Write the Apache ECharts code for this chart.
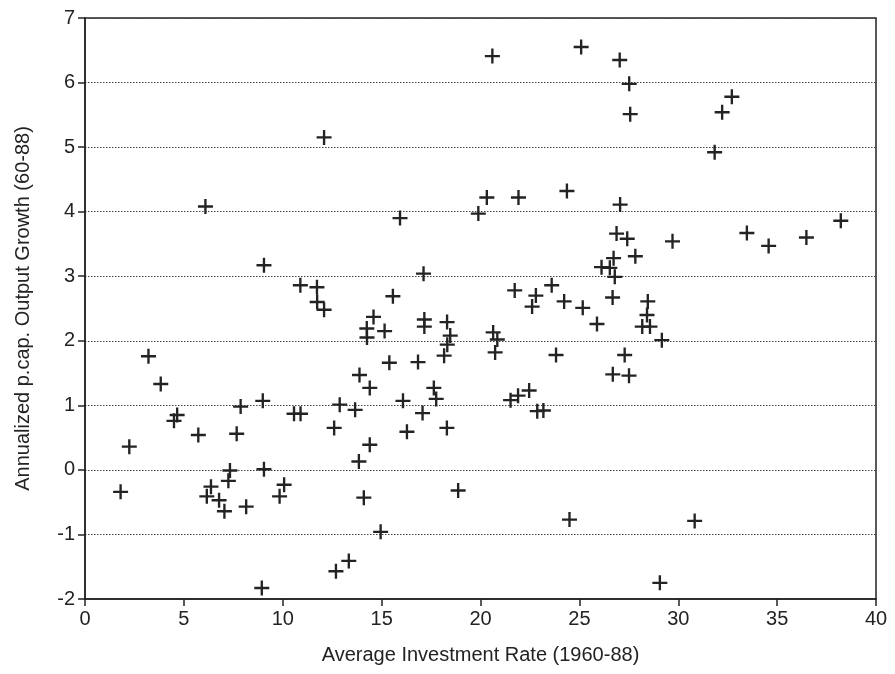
<!DOCTYPE html>
<html>
<head>
<meta charset="utf-8">
<script src="https://cdn.jsdelivr.net/npm/echarts@6/dist/echarts.min.js"></script>
<style>
html,body{margin:0;padding:0;background:#fff;}
#chart{width:895px;height:674px;}
</style>
</head>
<body>
<div id="chart"></div>
<script>
// Average investment rate 1960-88 (x) and annualized per-capita output growth 60-88 (y)
const investmentRate = [
  1.80, 2.24, 3.21, 3.83, 4.50, 4.66, 5.73, 6.09, 6.16, 6.37,
  6.78, 7.05, 7.25, 7.33, 7.67, 7.87, 8.15, 8.94, 8.99, 9.05,
  9.05, 9.84, 10.07, 10.57, 10.90, 10.89, 11.73, 11.74, 12.09, 12.09,
  12.69, 12.60, 12.88, 13.34, 13.66, 13.85, 13.88, 14.10, 14.25, 14.26,
  14.40, 14.40, 14.59, 14.95, 15.15, 15.39, 15.57, 15.93, 16.08, 16.28,
  16.84, 17.07, 17.12, 17.16, 17.16, 17.64, 17.76, 18.16, 18.30, 18.32,
  18.31, 18.47, 18.87, 19.89, 20.32, 20.64, 20.74, 20.60, 20.85, 21.52,
  21.73, 21.90, 21.92, 22.46, 22.61, 22.87, 22.80, 23.18, 23.60, 23.82,
  24.23, 24.50, 24.37, 25.17, 25.09, 25.89, 26.12, 26.54, 26.69, 26.68,
  26.73, 26.79, 26.88, 27.06, 27.04, 27.29, 27.51, 27.42, 27.52, 27.57,
  27.83, 28.18, 28.42, 28.46, 28.57, 29.07, 29.17, 29.71, 30.83, 31.84,
  32.22, 32.71, 33.47, 34.57, 36.48, 38.22
];
const outputGrowth = [
  -0.34, 0.36, 1.76, 1.33, 0.76, 0.85, 0.54, 4.08, -0.41, -0.26,
  -0.47, -0.64, -0.17, -0.01, 0.56, 0.98, -0.57, -1.83, 1.07, 0.01,
  3.17, -0.41, -0.23, 0.87, 0.87, 2.86, 2.83, 2.60, 2.48, 5.15,
  -1.57, 0.65, 1.01, -1.41, 0.93, 0.13, 1.47, -0.43, 2.19, 2.05,
  0.39, 1.27, 2.37, -0.96, 2.15, 1.66, 2.69, 3.90, 1.07, 0.59,
  1.67, 0.88, 3.04, 2.33, 2.22, 1.27, 1.10, 1.77, 0.65, 1.94,
  2.29, 2.08, -0.32, 3.97, 4.22, 2.13, 1.82, 6.41, 2.02, 1.08,
  2.78, 1.15, 4.22, 1.23, 2.53, 0.91, 2.70, 0.92, 2.86, 1.78,
  2.61, -0.77, 4.32, 2.51, 6.55, 2.26, 3.14, 3.13, 1.48, 2.67,
  3.28, 2.99, 3.66, 4.11, 6.35, 1.78, 1.46, 3.58, 5.98, 5.51,
  3.31, 2.22, 2.40, 2.61, 2.22, -1.75, 2.01, 3.54, -0.79, 4.92,
  5.54, 5.78, 3.67, 3.47, 3.60, 3.86
];
const xTicks = [0, 5, 10, 15, 20, 25, 30, 35, 40];
const yTicks = [-2, -1, 0, 1, 2, 3, 4, 5, 6, 7];
const xTitle = 'Average Investment Rate (1960-88)';
const yTitle = 'Annualized p.cap. Output Growth (60-88)';

const points = investmentRate.map((x, i) => [x, outputGrowth[i]]);
const ink = '#232323';
const font = 'Liberation Sans, Arial, Helvetica, sans-serif';

const chart = echarts.init(document.getElementById('chart'), null, {renderer: 'canvas'});
chart.setOption({
  animation: false,
  backgroundColor: '#ffffff',
  grid: {
    left: 85, right: 19, top: 18, bottom: 75,
    show: true, borderColor: ink, borderWidth: 1.5, backgroundColor: 'transparent'
  },
  xAxis: {
    type: 'value',
    min: xTicks[0], max: xTicks[xTicks.length - 1], interval: 5,
    name: xTitle, nameLocation: 'middle', nameGap: 46,
    nameTextStyle: {fontFamily: font, fontSize: 20, color: ink},
    axisLine: {show: true, onZero: false, lineStyle: {color: ink, width: 1.5}},
    axisTick: {show: true, inside: false, length: 7, lineStyle: {color: ink, width: 1.5}},
    axisLabel: {fontFamily: font, fontSize: 20, color: ink, margin: 10},
    splitLine: {show: false}
  },
  yAxis: {
    type: 'value',
    min: yTicks[0], max: yTicks[yTicks.length - 1], interval: 1,
    name: yTitle, nameLocation: 'middle', nameGap: 52, nameRotate: 90,
    nameTextStyle: {fontFamily: font, fontSize: 20, color: ink},
    axisLine: {show: true, onZero: false, lineStyle: {color: ink, width: 1.5}},
    axisTick: {show: true, inside: false, length: 7, lineStyle: {color: ink, width: 1.5}},
    axisLabel: {fontFamily: font, fontSize: 20, color: ink, margin: 10},
    splitLine: {show: true, lineStyle: {color: '#444', width: 1, type: [1.5, 1.5]}}
  },
  series: [{
    type: 'scatter',
    data: points,
    symbol: 'path://M-1.1,-7H1.1V-1.1H7V1.1H1.1V7H-1.1V1.1H-7V-1.1H-1.1Z',
    symbolSize: 15,
    itemStyle: {color: ink, opacity: 1},
    silent: true
  }]
});
</script>
</body>
</html>
